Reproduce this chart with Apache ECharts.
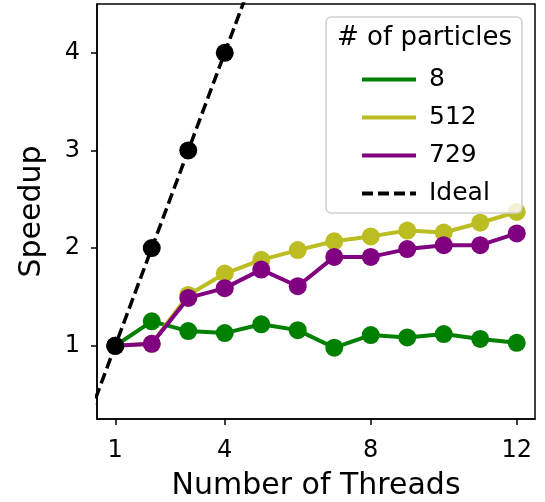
<!DOCTYPE html>
<html>
<head>
<meta charset="utf-8">
<script src="https://cdn.jsdelivr.net/npm/echarts@6/dist/echarts.min.js"></script>
<style>
  html, body { margin: 0; padding: 0; background: #fff; }
  #main { width: 545px; height: 502px; }
</style>
</head>
<body>
<div id="main"></div>
<script>
var threads = [1, 2, 3, 4, 5, 6, 7, 8, 9, 10, 11, 12];
var speedup8 = [1.00, 1.25, 1.15, 1.13, 1.22, 1.16, 0.98, 1.11, 1.085, 1.12, 1.07, 1.03];
var speedup512 = [1.00, 1.02, 1.52, 1.74, 1.88, 1.98, 2.07, 2.12, 2.18, 2.16, 2.26, 2.37];
var speedup729 = [1.00, 1.02, 1.49, 1.59, 1.78, 1.61, 1.91, 1.91, 1.99, 2.03, 2.03, 2.15];
var idealLineX = [0, 1, 2, 3, 4, 5];
var idealLineY = [0, 1, 2, 3, 4, 5];
var idealPointX = [1, 2, 3, 4];
var idealPointY = [1, 2, 3, 4];
var xTicks = [1, 4, 8, 12];
var yTicks = [1, 2, 3, 4];

var FONT = 'DejaVu Sans';

function pairs(xs, ys) {
    var out = [];
    for (var i = 0; i < xs.length; i++) {
        out.push([xs[i], ys[i]]);
    }
    return out;
}

var items = [
    { name: '8', color: '#008000', x: threads, y: speedup8 },
    { name: '512', color: '#bcbd22', x: threads, y: speedup512 },
    { name: '729', color: '#800080', x: threads, y: speedup729 }
];

var myChart = echarts.init(document.getElementById('main'));
var option = {
    animation: false,
    backgroundColor: '#fff',
    textStyle: { fontFamily: FONT },
    grid: {
        left: 97, right: 10, top: 4, bottom: 83
        , outerBoundsMode: 'none'
        , show: true
        , borderColor: '#000'
        , borderWidth: 1.5
    },
    xAxis: {
        type: 'value'
        , min: 0.5
        , max: 12.5
        , name: 'Number of Threads'
        , nameLocation: 'middle'
        , nameGap: 52
        , nameTextStyle: { fontSize: 30, color: '#000', fontFamily: FONT }
        , axisLine: { show: true, lineStyle: { color: '#000', width: 1.5 } }
        , axisTick: { show: true, customValues: xTicks, length: 6, lineStyle: { color: '#000', width: 1.5 } }
        , axisLabel: { customValues: xTicks, fontSize: 24, color: '#000', margin: 20, fontFamily: FONT }
        , splitLine: { show: false }
    },
    yAxis: {
        type: 'value'
        , min: 0.25
        , max: 4.5
        , name: 'Speedup'
        , nameLocation: 'middle'
        , nameGap: 50
        , nameTextStyle: { fontSize: 30, color: '#000', fontFamily: FONT }
        , axisLine: { show: true, lineStyle: { color: '#000', width: 1.5 } }
        , axisTick: { show: true, customValues: yTicks, length: 6, lineStyle: { color: '#000', width: 1.5 } }
        , axisLabel: { customValues: yTicks, fontSize: 24, color: '#000', margin: 17, fontFamily: FONT }
        , splitLine: { show: false }
    },
    legend: {
        orient: 'vertical'
        , left: 355
        , top: 62
        , itemWidth: 54
        , itemHeight: 6
        , itemGap: 13
        , z: 20
        , itemStyle: { opacity: 0 }
        , lineStyle: { width: 4 }
        , data: ['8', '512', '729', 'Ideal']
        , textStyle: { fontSize: 25, color: '#000', fontFamily: FONT, padding: [0, 0, 0, 8] }
    },
    graphic: [
        {
            type: 'rect'
            , z: 15
            , shape: { x: 326, y: 17, width: 196, height: 196, r: 5 }
            , style: { fill: 'rgba(255,255,255,0.8)', stroke: '#d0d0d0', lineWidth: 1.5 }
        },
        {
            type: 'text'
            , z: 16
            , left: 337
            , top: 25
            , style: { text: '# of particles', fontSize: 26, fill: '#000', fontFamily: FONT }
        }
    ],
    series: []
};

for (var i = 0; i < items.length; i++) {
    option.series.push({
        name: items[i].name
        , type: 'line'
        , z: 2 + i * 2
        , symbol: 'none'
        , lineStyle: { color: items[i].color, width: 4 }
        , itemStyle: { color: items[i].color }
        , data: pairs(items[i].x, items[i].y)
    });
    option.series.push({
        type: 'scatter'
        , z: 3 + i * 2
        , symbolSize: 18
        , itemStyle: { color: items[i].color, opacity: 1 }
        , data: pairs(items[i].x, items[i].y)
    });
}
// ideal scaling
option.series.push({
    name: 'Ideal'
    , type: 'line'
    , z: 9
    , symbol: 'none'
    , clip: true
    , lineStyle: { color: '#000', width: 3.5, type: [11, 5] }
    , itemStyle: { color: '#000' }
    , data: pairs(idealLineX, idealLineY)
});
option.series.push({
    type: 'scatter'
    , z: 10
    , symbolSize: 18
    , itemStyle: { color: '#000', opacity: 1 }
    , data: pairs(idealPointX, idealPointY)
});

myChart.setOption(option);
</script>
</body>
</html>
